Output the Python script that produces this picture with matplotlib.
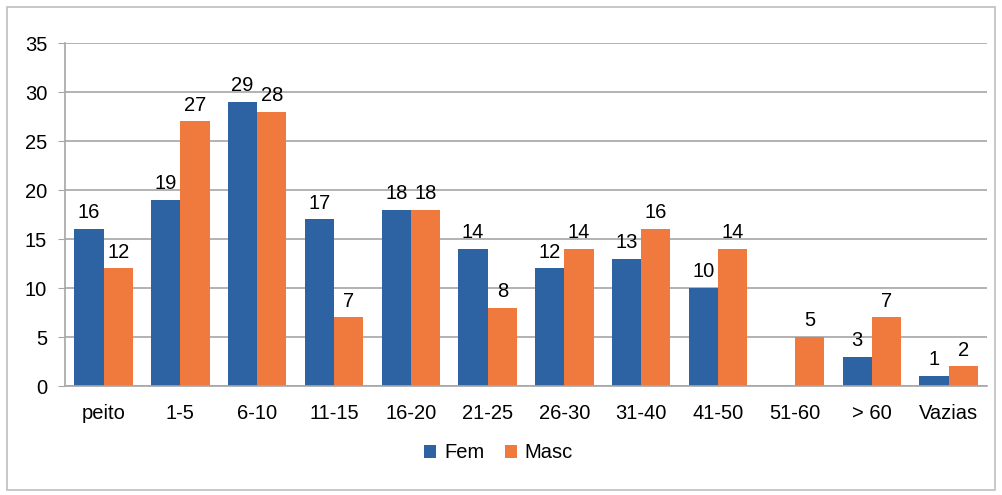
import numpy as np
import matplotlib.pyplot as plt
from matplotlib.patches import Rectangle

plt.rcParams['font.family'] = ['Liberation Sans', 'DejaVu Sans']

categorias = ['peito', '1-5', '6-10', '11-15', '16-20', '21-25', '26-30',
              '31-40', '41-50', '51-60', '> 60', 'Vazias']
fem = [16, 19, 29, 17, 18, 14, 12, 13, 10, 0, 3, 1]
masc = [12, 27, 28, 7, 18, 8, 14, 16, 14, 5, 7, 2]

cor_fem = '#2E63A3'
cor_masc = '#F07A3D'
cinza = '#A6A6A6'

fig = plt.figure(figsize=(10.03, 4.95), dpi=100)
ax = fig.add_axes([0.065, 0.22, 0.919, 0.693])

x = np.arange(len(categorias))
w = 0.38
b1 = ax.bar(x - w / 2, fem, w, color=cor_fem, label='Fem')
b2 = ax.bar(x + w / 2, masc, w, color=cor_masc, label='Masc')

# rotulos de dados (sem rotulo para zero)
for barras, vals in ((b1, fem), (b2, masc)):
    for r, v in zip(barras, vals):
        if v == 0:
            continue
        ax.annotate(str(v), (r.get_x() + r.get_width() / 2, v),
                    xytext=(0, 5), textcoords='offset points',
                    ha='center', va='bottom', fontsize=14.5)

ax.set_xlim(-0.5, len(categorias) - 0.5)
ax.set_ylim(0, 35)
ax.set_yticks(range(0, 36, 5))
ax.set_xticks(x)
ax.set_xticklabels(categorias)
ax.tick_params(axis='x', length=0, pad=13, labelsize=14.5)
ax.tick_params(axis='y', length=5, color=cinza, pad=8, labelsize=14.5)
ax.grid(axis='y', color=cinza, linewidth=1.2)
ax.set_axisbelow(True)
for s in ('top', 'right'):
    ax.spines[s].set_visible(False)
for s in ('left', 'bottom'):
    ax.spines[s].set_color(cinza)
    ax.spines[s].set_linewidth(1.2)

fig.legend(loc='center', bbox_to_anchor=(0.497, 0.085), ncol=2, frameon=False,
           fontsize=14.5, handlelength=0.6, handleheight=0.6, handletextpad=0.4,
           columnspacing=1.0)

# moldura do grafico
fig.patches.append(Rectangle((7 / 1003, 5 / 495), 988 / 1003, 483 / 495,
                             transform=fig.transFigure, fill=False,
                             edgecolor='#BFBFBF', linewidth=1.2))

fig.savefig('out.png', dpi=100)
